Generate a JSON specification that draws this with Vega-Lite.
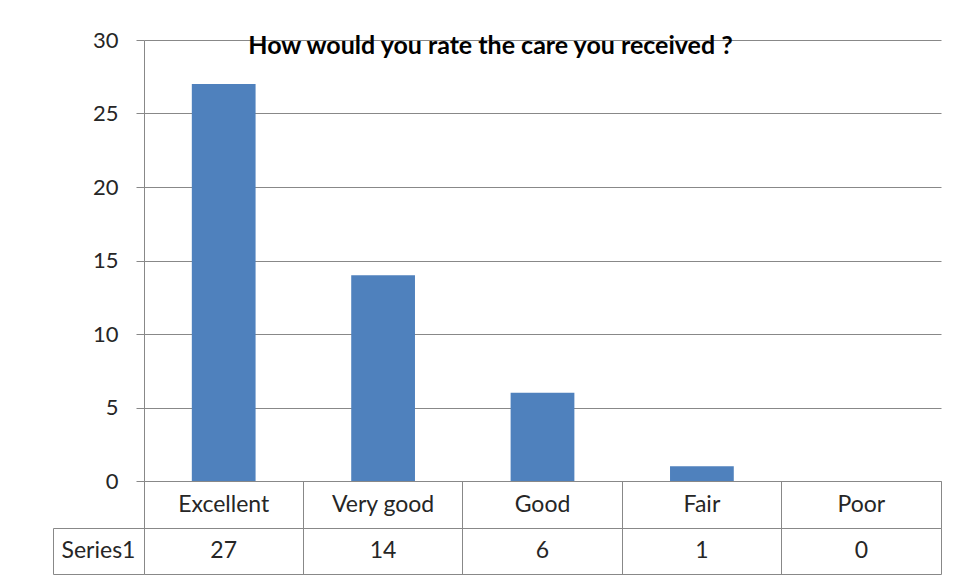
{
  "$schema": "https://vega.github.io/schema/vega-lite/v6.json",
  "padding": {"left": 52, "top": 29, "right": 0, "bottom": 0},
  "background": "white",
  "spacing": 0,
  "bounds": "flush",
  "config": {"view": {"stroke": null}, "concat": {"spacing": 0}},
  "datasets": {
    "ratings": [
      {"rating": "Excellent", "count": 27, "series": "Series1"},
      {"rating": "Very good", "count": 14, "series": "Series1"},
      {"rating": "Good", "count": 6, "series": "Series1"},
      {"rating": "Fair", "count": 1, "series": "Series1"},
      {"rating": "Poor", "count": 0, "series": "Series1"}
    ]
  },
  "vconcat": [
    {
      "width": 797,
      "height": 441,
      "data": {"name": "ratings"},
      "title": {
        "text": "How would you rate the care you received ?",
        "font": "Lato",
        "fontSize": 25,
        "fontWeight": "bold",
        "color": "#000000",
        "anchor": "middle",
        "dx": -52,
        "baseline": "alphabetic",
        "offset": -50
      },
      "mark": {"type": "bar", "color": "#4F81BD"},
      "encoding": {
        "x": {
          "field": "rating", "type": "nominal", "sort": null,
          "scale": {"paddingInner": 0.6, "paddingOuter": 0.3},
          "axis": null
        },
        "y": {
          "field": "count", "type": "quantitative",
          "scale": {"domain": [0, 30]},
          "axis": {
            "values": [0, 5, 10, 15, 20, 25, 30],
            "title": null,
            "grid": true, "gridColor": "#888888", "gridOpacity": 1,
            "domainColor": "#888888", "tickColor": "#888888", "tickSize": 8,
            "labelFont": "Lato", "labelFontSize": 22, "labelColor": "#262626",
            "labelPadding": 18
          }
        }
      }
    },
    {
      "width": 797,
      "height": 47,
      "view": {"stroke": "#888888"},
      "data": {"name": "ratings"},
      "mark": {"type": "text", "font": "Lato", "fontSize": 23, "color": "#262626", "baseline": "middle"},
      "encoding": {
        "x": {
          "field": "rating", "type": "nominal", "sort": null, "bandPosition": 0.5,
          "scale": {"type": "band", "padding": 0},
          "axis": {"title": null, "labels": false, "ticks": false, "domain": false, "grid": true, "gridColor": "#888888", "gridOpacity": 1, "bandPosition": 0}
        },
        "text": {"field": "rating"}
      }
    },
    {
      "width": 797,
      "height": 46,
      "view": {"stroke": "#888888"},
      "data": {"name": "ratings"},
      "mark": {"type": "text", "font": "Lato", "fontSize": 23, "color": "#262626", "baseline": "middle"},
      "encoding": {
        "x": {
          "field": "rating", "type": "nominal", "sort": null, "bandPosition": 0.5,
          "scale": {"type": "band", "padding": 0},
          "axis": {"title": null, "labels": false, "ticks": false, "domain": false, "grid": true, "gridColor": "#888888", "gridOpacity": 1, "bandPosition": 0}
        },
        "y": {
          "field": "series", "type": "nominal", "bandPosition": 0.5,
          "scale": {"type": "band", "padding": 0},
          "axis": {
            "title": null, "orient": "left", "offset": 91,
            "domain": true, "domainColor": "#888888",
            "ticks": true, "tickColor": "#888888", "tickSize": -91,
            "bandPosition": 1, "tickExtra": true,
            "labelFont": "Lato", "labelFontSize": 23, "labelColor": "#262626",
            "labelAlign": "center", "labelPadding": 46
          }
        },
        "text": {"field": "count", "type": "quantitative"}
      }
    }
  ]
}
